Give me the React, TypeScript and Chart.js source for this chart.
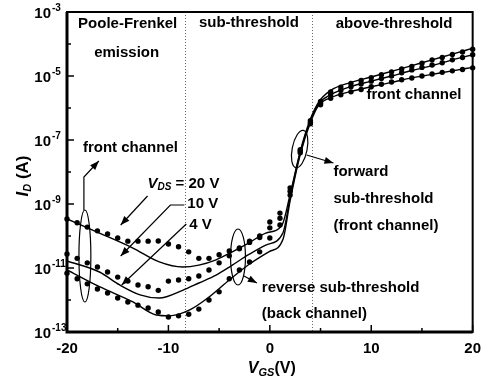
import React, { useEffect, useRef } from 'react';
import { Chart, registerables } from 'chart.js';

Chart.register(...registerables);

const FONT = '"Liberation Sans", Arial, Helvetica, sans-serif';

// Gate voltage of the measured points (V)
const vgs = [-20, -19, -18, -17, -16, -15, -14, -13, -12, -11, -10, -9, -8, -7, -6, -5, -4, -3, -2, -1, 0, 1, 2, 3, 4, 5, 6, 7, 8, 9, 10, 11, 12, 13, 14, 15, 16, 17, 18, 19, 20];

// Measured drain current (A), dots
const measured20V = [3.4e-10, 2.6e-10, 1.9e-10, 1.45e-10, 1.15e-10, 8.7e-11, 6.9e-11, 6.9e-11, 6.9e-11, 7.0e-11, 5.6e-11, 4.6e-11, 3.2e-11, 2.0e-11, 2.0e-11, 2.6e-11, 3.4e-11, 4.2e-11, 6.9e-11, 1.0e-10, 2.75e-10, 5.2e-10, 3.2e-9, 5.0e-8, 4.0e-7, 1.6e-6, 3.2e-6, 4.5e-6, 5.8e-6, 7.2e-6, 8.9e-6, 1.1e-5, 1.35e-5, 1.66e-5, 2.0e-5, 2.5e-5, 3.2e-5, 3.8e-5, 4.7e-5, 5.6e-5, 6.9e-5];
const measured10V = [2.75e-11, 2.0e-11, 1.45e-11, 1.07e-11, 7.5e-12, 5.2e-12, 3.9e-12, 2.95e-12, 2.6e-12, 2.0e-12, 3.9e-12, 4.2e-12, 4.6e-12, 5.6e-12, 8.7e-12, 1.45e-11, 2.4e-11, 4.0e-11, 6.3e-11, 8.9e-11, 1.8e-10, 3.6e-10, 2.5e-9, 4.5e-8, 3.5e-7, 1.4e-6, 2.6e-6, 3.6e-6, 4.6e-6, 5.6e-6, 6.9e-6, 8.3e-6, 1.0e-5, 1.26e-5, 1.55e-5, 1.86e-5, 2.2e-5, 2.6e-5, 3.2e-5, 3.8e-5, 4.6e-5];
const measured4V = [6.9e-12, 4.6e-12, 3.2e-12, 2.2e-12, 1.66e-12, 1.15e-12, 8.7e-13, 6.9e-13, 5.6e-13, 4.2e-13, 2.95e-13, 3.2e-13, 3.6e-13, 5.2e-13, 1.0e-12, 1.8e-12, 4.6e-12, 8.7e-12, 1.55e-11, 3.2e-11, 8.7e-11, 2.2e-10, 1.9e-9, 4.0e-8, 3.2e-7, 1.26e-6, 2.0e-6, 2.6e-6, 3.2e-6, 3.8e-6, 4.6e-6, 5.5e-6, 6.5e-6, 7.6e-6, 8.7e-6, 1.0e-5, 1.15e-5, 1.3e-5, 1.45e-5, 1.6e-5, 1.8e-5];

// Simulated curves (solid lines)
const simX20 = [-20, -16.8, -13.5, -10.9, -8.6, -7, -5.3, -3.7, -2.1, -0.4, 1.2, 2, 3, 4, 4.8, 6, 8, 10, 12, 14, 16, 18, 20];
const sim20V = [3.4e-10, 1.23e-10, 4.2e-11, 1.55e-11, 1.07e-11, 1.23e-11, 1.8e-11, 3.2e-11, 6.0e-11, 1.23e-10, 2.2e-10, 2.0e-9, 4.5e-8, 4.5e-7, 1.5e-6, 3.55e-6, 6.3e-6, 9.3e-6, 1.4e-5, 2.1e-5, 3.2e-5, 4.8e-5, 7.4e-5];
const simX10 = [-20, -16.8, -14.8, -12.8, -10.9, -8.6, -7, -5.3, -3.7, -2.1, -0.4, 1.3, 2, 3, 4, 4.8, 6, 8, 10, 12, 14, 16, 18, 20];
const sim10V = [1.66e-11, 7.5e-12, 2.95e-12, 1.45e-12, 1.15e-12, 2.0e-12, 3.4e-12, 6.0e-12, 1.23e-11, 2.6e-11, 5.2e-11, 1.26e-10, 1.6e-9, 4.0e-8, 4.0e-7, 1.35e-6, 2.6e-6, 4.7e-6, 6.9e-6, 1.0e-5, 1.48e-5, 2.1e-5, 3.2e-5, 4.6e-5];
const simX4 = [-20, -16.8, -13.5, -11.2, -9.9, -7.9, -6, -4, -2.1, -0.1, 1.3, 2, 3, 4, 4.8, 6, 8, 10, 12, 14, 16, 18, 20];
const sim4V = [8.7e-12, 2.6e-12, 8.7e-13, 3.4e-13, 3.2e-13, 4.9e-13, 1.23e-12, 4.2e-12, 1.26e-11, 3.2e-11, 7.9e-11, 1.26e-9, 3.5e-8, 3.5e-7, 1.2e-6, 2.1e-6, 3.3e-6, 4.6e-6, 6.3e-6, 8.7e-6, 1.12e-5, 1.45e-5, 1.86e-5];

// Axis ticks
const xTickValues = [-20, -15, -10, -5, 0, 5, 10, 15, 20];
const xLabelStep = 10;
const yDecades = [-13, -12, -11, -10, -9, -8, -7, -6, -5, -4, -3];
const yLabelExps = [-3, -5, -7, -9, -11, -13];

// Region boundaries (dotted vertical lines), V
const regionBounds = [-8.4, 4.2];

type Part = { t: string; size: number; style?: string; dy?: number };

function rich(ctx: CanvasRenderingContext2D, parts: Part[], x: number, y: number, align: 'left' | 'center' = 'left') {
  let w = 0;
  const widths: number[] = [];
  parts.forEach((p) => {
    ctx.font = `${p.style || 'bold'} ${p.size}px ${FONT}`;
    const pw = ctx.measureText(p.t).width;
    widths.push(pw);
    w += pw;
  });
  let cx = align === 'center' ? x - w / 2 : x;
  ctx.textAlign = 'left';
  parts.forEach((p, i) => {
    ctx.font = `${p.style || 'bold'} ${p.size}px ${FONT}`;
    ctx.fillText(p.t, cx, y + (p.dy || 0));
    cx += widths[i];
  });
}

function arrow(ctx: CanvasRenderingContext2D, pts: number[][]) {
  ctx.beginPath();
  ctx.moveTo(pts[0][0], pts[0][1]);
  for (let i = 1; i < pts.length; i++) ctx.lineTo(pts[i][0], pts[i][1]);
  ctx.stroke();
  const [x2, y2] = pts[pts.length - 1];
  const [x1, y1] = pts[pts.length - 2];
  const a = Math.atan2(y2 - y1, x2 - x1);
  const L = 9, W = 3.5;
  const c = Math.cos(a), s = Math.sin(a);
  ctx.beginPath();
  ctx.moveTo(x2, y2);
  ctx.lineTo(x2 - L * c + W * s, y2 - L * s - W * c);
  ctx.lineTo(x2 - L * c - W * s, y2 - L * s + W * c);
  ctx.closePath();
  ctx.fill();
}

const annotations = {
  id: 'annotations',
  beforeDatasetsDraw(chart: any) {
    const { ctx, chartArea: ca, scales } = chart;
    ctx.save();
    ctx.strokeStyle = '#666';
    ctx.lineWidth = 1;
    ctx.setLineDash([1, 2]);
    regionBounds.forEach((v) => {
      const px = Math.round(scales.x.getPixelForValue(v)) + 0.5;
      ctx.beginPath();
      ctx.moveTo(px, ca.top);
      ctx.lineTo(px, ca.bottom);
      ctx.stroke();
    });
    ctx.restore();
  },
  afterDraw(chart: any) {
    const { ctx, chartArea: ca, scales } = chart;
    const sx = ca.width / 408, sy = ca.height / 320;
    const R = (px: number, py: number) => [ca.left + (px - 67) * sx, ca.top + (py - 12) * sy];
    ctx.save();
    ctx.fillStyle = '#000';
    ctx.strokeStyle = '#000';

    // frame
    ctx.lineWidth = 2;
    ctx.strokeRect(ca.left, ca.top, ca.width, ca.height);
    ctx.lineWidth = 3;
    ctx.beginPath();
    ctx.moveTo(ca.left, ca.top);
    ctx.lineTo(ca.left, ca.bottom);
    ctx.lineTo(ca.right, ca.bottom);
    ctx.stroke();

    // inward ticks
    ctx.lineWidth = 1.5;
    yDecades.forEach((e) => {
      const py = scales.y.getPixelForValue(Math.pow(10, e));
      const len = yLabelExps.includes(e) ? 7 : 4;
      ctx.beginPath();
      ctx.moveTo(ca.left, py);
      ctx.lineTo(ca.left + len, py);
      ctx.stroke();
    });
    xTickValues.forEach((v) => {
      const px = scales.x.getPixelForValue(v);
      const len = v % xLabelStep === 0 ? 7 : 4;
      ctx.beginPath();
      ctx.moveTo(px, ca.bottom);
      ctx.lineTo(px, ca.bottom - len);
      ctx.stroke();
    });

    // y tick labels 10^e
    ctx.textBaseline = 'middle';
    yLabelExps.forEach((e) => {
      const py = scales.y.getPixelForValue(Math.pow(10, e));
      ctx.font = `bold 15px ${FONT}`;
      ctx.textAlign = 'right';
      ctx.fillText('10', ca.left - 16, py + 2);
      ctx.font = `bold 10px ${FONT}`;
      ctx.textAlign = 'left';
      ctx.fillText(`${e}`, ca.left - 15, py - 4);
    });

    // axis titles
    ctx.save();
    ctx.translate(22, (ca.top + ca.bottom) / 2 + 4);
    ctx.rotate(-Math.PI / 2);
    ctx.textBaseline = 'alphabetic';
    rich(ctx, [
      { t: 'I', size: 17, style: 'italic bold' },
      { t: 'D', size: 11, style: 'italic bold', dy: 3 },
      { t: ' (A)', size: 17, style: 'bold' },
    ], 0, 6, 'center');
    ctx.restore();
    ctx.textBaseline = 'alphabetic';
    const [vx, vy] = R(273, 373);
    rich(ctx, [
      { t: 'V', size: 16, style: 'italic bold' },
      { t: 'GS', size: 11, style: 'italic bold', dy: 3 },
      { t: '(V)', size: 16, style: 'bold' },
    ], vx, vy, 'center');

    // annotation texts
    ctx.textBaseline = 'middle';
    const T = (s: string, px: number, py: number, align: 'left' | 'center' = 'left') => {
      const [a, b] = R(px, py);
      rich(ctx, [{ t: s, size: 15 }], a, b, align);
    };
    T('Poole-Frenkel', 128, 24, 'center');
    T('emission', 127, 53, 'center');
    T('sub-threshold', 250, 23, 'center');
    T('above-threshold', 396, 24, 'center');
    T('front channel', 416, 95, 'center');
    T('forward', 335, 172);
    T('sub-threshold', 335, 199);
    T('(front channel)', 335, 226);
    T('reverse sub-threshold', 263, 288);
    T('(back channel)', 263, 314);
    T('front channel', 83, 148);
    {
      const [a, b] = R(148, 184);
      rich(ctx, [
        { t: 'V', size: 15, style: 'italic bold' },
        { t: 'DS', size: 10, style: 'italic bold', dy: 3 },
        { t: ' = 20 V', size: 15 },
      ], a, b);
    }
    T('10 V', 188, 204);
    T('4 V', 190, 225);

    // ellipses
    ctx.lineWidth = 1.2;
    const E = (cx: number, cy: number, rx: number, ry: number, rot: number) => {
      const [a, b] = R(cx, cy);
      ctx.beginPath();
      ctx.ellipse(a, b, rx * sx, ry * sy, rot, 0, Math.PI * 2);
      ctx.stroke();
    };
    E(85, 256, 6, 46, 0);
    E(301, 149, 7.5, 19, 0.2);
    E(239, 257, 7.5, 28, 0);

    // arrows
    const A = (pts: number[][]) => arrow(ctx, pts.map(([a, b]) => R(a, b)));
    A([[84, 210], [84, 177], [99, 161]]);
    A([[148, 196], [121, 225]]);
    A([[185, 205], [171, 205], [121, 256]]);
    A([[187, 224], [122, 285]]);
    A([[308, 155], [335, 163]]);
    A([[245, 276], [258, 283]]);

    ctx.restore();
  },
};

export default function App() {
  const canvasRef = useRef<HTMLCanvasElement | null>(null);

  useEffect(() => {
    if (!canvasRef.current) return;
    const dots = (data: number[], label: string) => ({
      label,
      data: vgs.map((x, i) => ({ x, y: data[i] })),
      showLine: false,
      pointRadius: 2.7,
      pointBackgroundColor: '#000',
      pointBorderWidth: 0,
      borderColor: '#000',
      clip: false as any,
    });
    const sim = (xs: number[], data: number[], label: string) => ({
      label,
      data: xs.map((x, i) => ({ x, y: data[i] })),
      borderColor: '#000',
      borderWidth: 1.4,
      pointRadius: 0,
      cubicInterpolationMode: 'monotone' as const,
      fill: false,
    });
    const chart = new Chart(canvasRef.current, {
      type: 'line',
      data: {
        datasets: [
          sim(simX20, sim20V, 'Simulated VDS = 20 V'),
          sim(simX10, sim10V, 'Simulated VDS = 10 V'),
          sim(simX4, sim4V, 'Simulated VDS = 4 V'),
          dots(measured20V, 'Measured VDS = 20 V'),
          dots(measured10V, 'Measured VDS = 10 V'),
          dots(measured4V, 'Measured VDS = 4 V'),
        ] as any,
      },
      options: {
        animation: false,
        responsive: true,
        maintainAspectRatio: false,
        layout: { padding: { top: 12, right: 14, left: 0, bottom: 0 } },
        plugins: { legend: { display: false }, tooltip: { enabled: false } },
        scales: {
          x: {
            type: 'linear',
            min: -20,
            max: 20,
            grid: { display: false, drawTicks: false },
            border: { display: false },
            ticks: {
              stepSize: xLabelStep,
              color: '#000',
              padding: 8,
              font: { family: FONT, size: 15, weight: 'bold' },
              maxRotation: 0,
            },
            afterFit: (s: any) => { s.height = 50; },
          },
          y: {
            type: 'logarithmic',
            min: 1e-13,
            max: 1e-3,
            grid: { display: false, drawTicks: false },
            border: { display: false },
            ticks: { display: false },
            afterFit: (s: any) => { s.width = 67; },
          },
        },
      } as any,
      plugins: [annotations],
    });
    return () => chart.destroy();
  }, []);

  return (
    <div style={{ position: 'fixed', left: 0, top: 0, width: 489, height: 382, background: '#fff' }}>
      <canvas ref={canvasRef} />
    </div>
  );
}
